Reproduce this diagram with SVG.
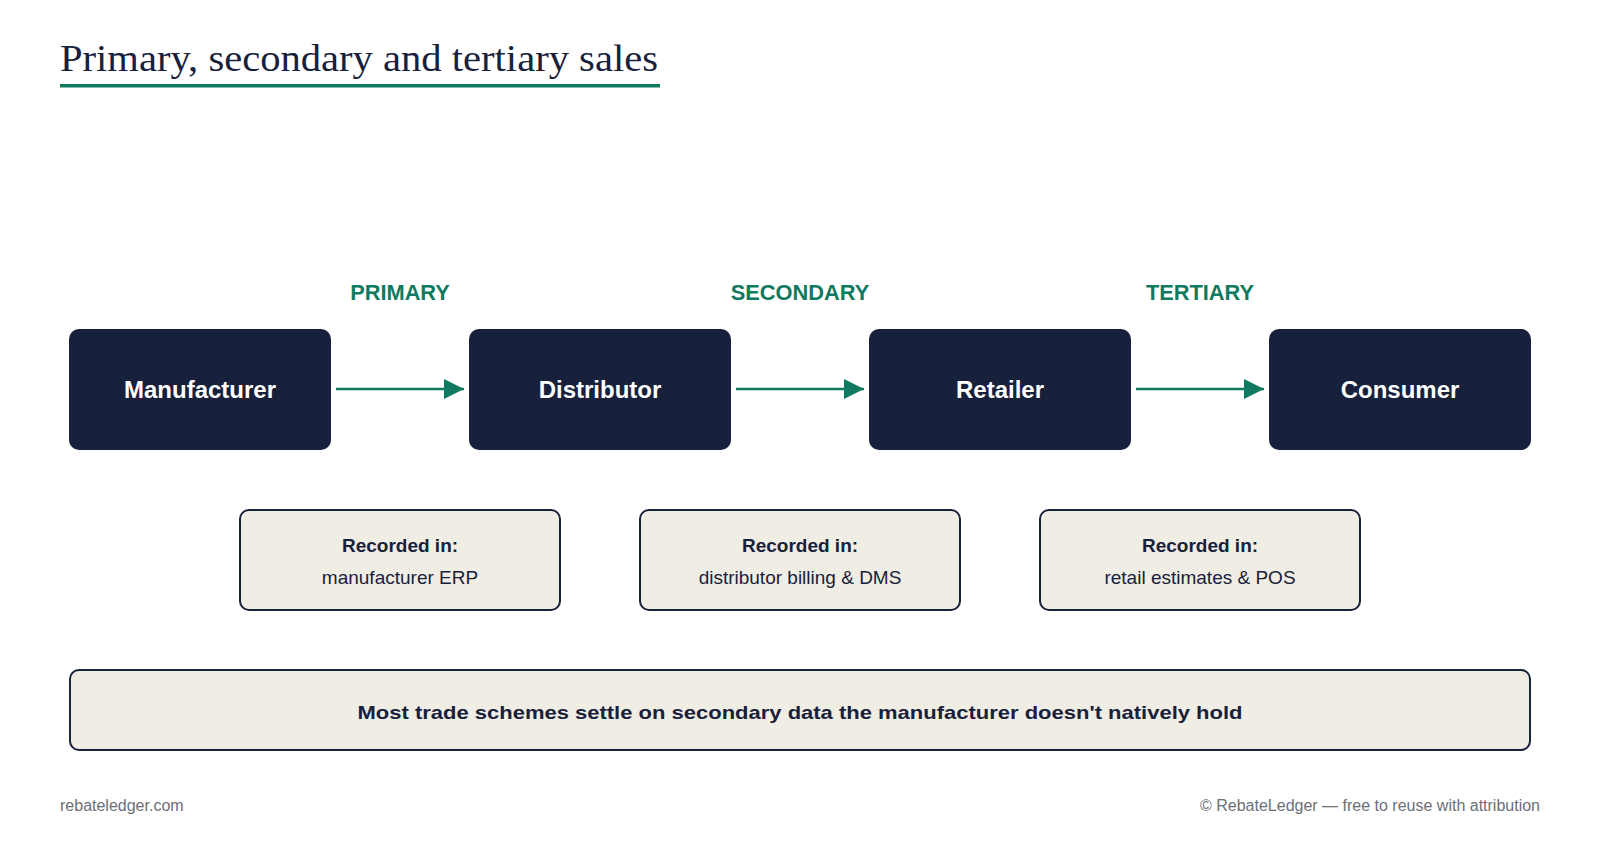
<svg xmlns="http://www.w3.org/2000/svg" width="1600" height="850" viewBox="0 0 1600 850">
<style>
.t{font-family:"Liberation Serif",serif;font-size:38px;fill:#18213b}
.n{fill:#18213b}
.nt{font-family:"Liberation Sans",Arial,sans-serif;font-size:24px;font-weight:bold;fill:#fff;text-anchor:middle}
.lb{font-family:"Liberation Sans",Arial,sans-serif;font-size:21.8px;font-weight:bold;fill:#0f7a5f;text-anchor:middle}
.r{fill:#f0ede4;stroke:#18213b;stroke-width:2}
.rt{font-family:"Liberation Sans",Arial,sans-serif;font-size:19px;fill:#18213b;text-anchor:middle}
.f{font-family:"Liberation Sans",Arial,sans-serif;font-size:16px;fill:#6b6f78}
</style>
<defs><marker id="a2" viewBox="0 0 10 10" refX="10" refY="5" markerWidth="8" markerHeight="8" orient="auto"><path d="M0,0L10,5L0,10z" fill="#0f7a5f"/></marker></defs>
<rect width="1600" height="850" fill="#fff"/>
<text class="t" x="60" y="71" textLength="598" lengthAdjust="spacingAndGlyphs">Primary, secondary and tertiary sales</text>
<rect x="60" y="84" width="600" height="3.5" fill="#0f7a5f"/>
<g id="labels">
<text class="lb" x="400" y="300">PRIMARY</text>
<text class="lb" x="800" y="300">SECONDARY</text>
<text class="lb" x="1200" y="300">TERTIARY</text>
</g>
<g id="connectors">
<path d="M336 389H464" stroke="#0f7a5f" stroke-width="2.5" marker-end="url(#a2)" fill="none"/>
<path d="M736 389H864" stroke="#0f7a5f" stroke-width="2.5" marker-end="url(#a2)" fill="none"/>
<path d="M1136 389H1264" stroke="#0f7a5f" stroke-width="2.5" marker-end="url(#a2)" fill="none"/>
</g>
<g id="manufacturer"><rect class="n" x="69" y="329" width="262" height="121" rx="10"/><text class="nt" x="200" y="398">Manufacturer</text></g>
<g id="distributor"><rect class="n" x="469" y="329" width="262" height="121" rx="10"/><text class="nt" x="600" y="398">Distributor</text></g>
<g id="retailer"><rect class="n" x="869" y="329" width="262" height="121" rx="10"/><text class="nt" x="1000" y="398">Retailer</text></g>
<g id="consumer"><rect class="n" x="1269" y="329" width="262" height="121" rx="10"/><text class="nt" x="1400" y="398">Consumer</text></g>
<g id="rec1"><rect class="r" x="240" y="510" width="320" height="100" rx="9"/><text class="rt" x="400" y="552" font-weight="bold">Recorded in:</text><text class="rt" x="400" y="584">manufacturer ERP</text></g>
<g id="rec2"><rect class="r" x="640" y="510" width="320" height="100" rx="9"/><text class="rt" x="800" y="552" font-weight="bold">Recorded in:</text><text class="rt" x="800" y="584">distributor billing &amp; DMS</text></g>
<g id="rec3"><rect class="r" x="1040" y="510" width="320" height="100" rx="9"/><text class="rt" x="1200" y="552" font-weight="bold">Recorded in:</text><text class="rt" x="1200" y="584">retail estimates &amp; POS</text></g>
<g id="note"><rect class="r" x="70" y="670" width="1460" height="80" rx="9"/><text class="rt" x="800" y="719" font-size="22.5" font-weight="bold" textLength="885" lengthAdjust="spacingAndGlyphs">Most trade schemes settle on secondary data the manufacturer doesn't natively hold</text></g>
<text class="f" x="60" y="811">rebateledger.com</text>
<text class="f" x="1540" y="811" text-anchor="end">© RebateLedger — free to reuse with attribution</text>
</svg>
